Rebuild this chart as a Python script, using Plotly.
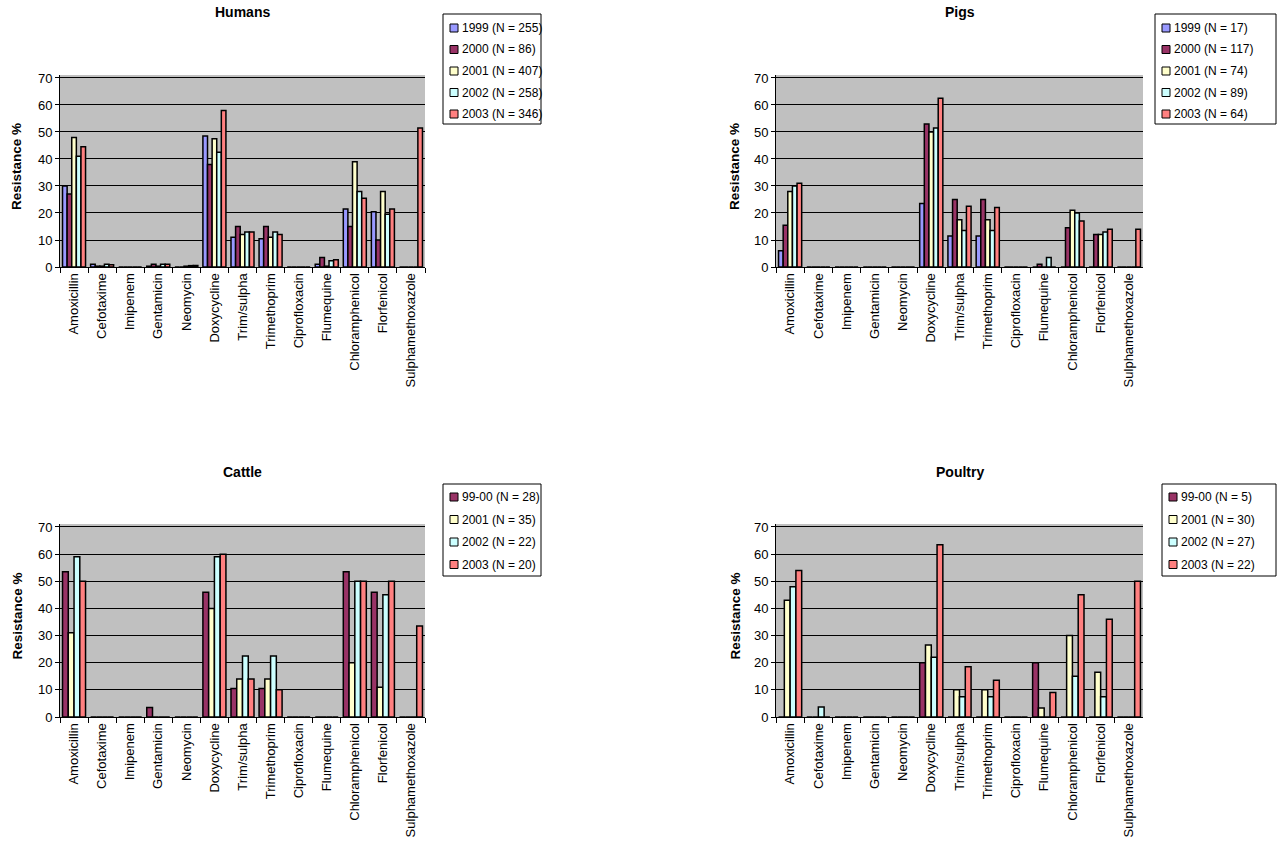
import plotly.graph_objects as go

W, H = 1283, 861
FONT = "Arial, Liberation Sans, sans-serif"

antibiotics = ["Amoxicillin", "Cefotaxime", "Imipenem", "Gentamicin", "Neomycin",
               "Doxycycline", "Trim/sulpha", "Trimethoprim", "Ciprofloxacin",
               "Flumequine", "Chloramphenicol", "Florfenicol", "Sulphamethoxazole"]

# Humans, resistance % per year
humans_labels = ["1999 (N = 255)", "2000 (N = 86)", "2001 (N = 407)", "2002 (N = 258)", "2003 (N = 346)"]
humans_1999 = [30, 1, 0, 0.3, 0, 48.5, 11, 10.5, 0, 1, 21.5, 20.5, 0]
humans_2000 = [27, 0.3, 0, 1, 0, 38, 15, 15, 0, 3.5, 15, 10, 0]
humans_2001 = [48, 0.3, 0, 0.3, 0.3, 47.5, 12, 11, 0, 0.3, 39, 28, 0]
humans_2002 = [41, 1, 0, 1, 0.5, 42.5, 13, 13, 0, 2.3, 28, 19.5, 0]
humans_2003 = [44.5, 0.8, 0, 1, 0.6, 58, 13, 12, 0, 2.7, 25.5, 21.5, 51.5]

# Pigs
pigs_labels = ["1999 (N = 17)", "2000 (N = 117)", "2001 (N = 74)", "2002 (N = 89)", "2003 (N = 64)"]
pigs_1999 = [6, 0, 0, 0, 0, 23.5, 11.5, 11.5, 0, 0, 0, 0, 0]
pigs_2000 = [15.5, 0, 0, 0, 0, 53, 25, 25, 0, 1, 14.5, 12, 0]
pigs_2001 = [28, 0, 0, 0, 0, 50, 17.5, 17.5, 0, 0, 21, 12, 0]
pigs_2002 = [30, 0, 0, 0, 0, 51.5, 13.5, 13.5, 0, 3.5, 20, 13, 0]
pigs_2003 = [31, 0, 0, 0, 0, 62.5, 22.5, 22, 0, 0, 17, 14, 14]

# Cattle
cattle_labels = ["99-00 (N = 28)", "2001 (N = 35)", "2002 (N = 22)", "2003 (N = 20)"]
cattle_9900 = [53.5, 0, 0, 3.5, 0, 46, 10.5, 10.5, 0, 0, 53.5, 46, 0]
cattle_2001 = [31, 0, 0, 0, 0, 40, 14, 14, 0, 0, 20, 11, 0]
cattle_2002 = [59, 0, 0, 0, 0, 59, 22.5, 22.5, 0, 0, 50, 45, 0]
cattle_2003 = [50, 0, 0, 0, 0, 60, 14, 10, 0, 0, 50, 50, 33.5]

# Poultry
poultry_labels = ["99-00 (N = 5)", "2001 (N = 30)", "2002 (N = 27)", "2003 (N = 22)"]
poultry_9900 = [0, 0, 0, 0, 0, 20, 0, 0, 0, 20, 0, 0, 0]
poultry_2001 = [43, 0, 0, 0, 0, 26.5, 10, 10, 0, 3.3, 30, 16.5, 0]
poultry_2002 = [48, 3.7, 0, 0, 0, 22, 7.5, 7.5, 0, 0, 15, 7.5, 0]
poultry_2003 = [54, 0, 0, 0, 0, 63.5, 18.5, 13.5, 0, 9, 45, 36, 50]

C1999, C2000, C2001, C2002, C2003 = "#9999FF", "#993366", "#FFFFCC", "#CCFFFF", "#FF8080"

# pixel placement of each panel: plot box, title, legend box
panels = [
    dict(title="Humans", labels=humans_labels,
         series=[humans_1999, humans_2000, humans_2001, humans_2002, humans_2003],
         colors=[C1999, C2000, C2001, C2002, C2003],
         px=(60, 425), py=(75, 267), title_y=12, ytitle_x=17,
         legend_box=(443, 14, 541, 124), legend_row0=28, legend_step=21.5),
    dict(title="Pigs", labels=pigs_labels,
         series=[pigs_1999, pigs_2000, pigs_2001, pigs_2002, pigs_2003],
         colors=[C1999, C2000, C2001, C2002, C2003],
         px=(776, 1143), py=(75, 267), title_y=12, ytitle_x=735,
         legend_box=(1155, 14, 1276, 124), legend_row0=28, legend_step=21.5),
    dict(title="Cattle", labels=cattle_labels,
         series=[cattle_9900, cattle_2001, cattle_2002, cattle_2003],
         colors=[C2000, C2001, C2002, C2003],
         px=(60, 425), py=(524, 717), title_y=472, ytitle_x=17,
         legend_box=(443, 484, 541, 576), legend_row0=497, legend_step=22.5),
    dict(title="Poultry", labels=poultry_labels,
         series=[poultry_9900, poultry_2001, poultry_2002, poultry_2003],
         colors=[C2000, C2001, C2002, C2003],
         px=(776, 1143), py=(524, 717), title_y=472, ytitle_x=735,
         legend_box=(1162, 484, 1276, 576), legend_row0=497, legend_step=22.5),
]

Y_TOP = 71.1  # back wall rises a little above the 70 gridline


def fx(px):
    return px / W


def fy(py):
    return 1 - py / H


fig = go.Figure()
layout = {}
annotations = []
shapes = []

for i, p in enumerate(panels, start=1):
    sfx = "" if i == 1 else str(i)
    xa, ya = f"x{sfx}", f"y{sfx}"
    for name, vals, col in zip(p["labels"], p["series"], p["colors"]):
        fig.add_trace(go.Bar(
            x=antibiotics, y=vals, name=name, xaxis=xa, yaxis=ya,
            marker=dict(color=col, line=dict(color="black", width=1.5)),
            showlegend=False,
        ))
    x0, x1 = p["px"]
    y0, y1 = p["py"]
    layout[f"xaxis{sfx}"] = dict(
        domain=[fx(x0), fx(x1)], anchor=ya, type="category", automargin=False,
        tickangle=-90, ticks="outside", tickson="boundaries", ticklen=5,
        tickcolor="black", showline=True, linecolor="black", linewidth=1,
        tickfont=dict(family=FONT, size=13, color="black"),
        showgrid=False,
    )
    layout[f"yaxis{sfx}"] = dict(
        domain=[fy(y1), fy(y0)], anchor=xa, range=[0, Y_TOP], automargin=False,
        tickvals=[0, 10, 20, 30, 40, 50, 60, 70], ticks="outside", ticklen=4,
        tickcolor="black", showline=True, linecolor="black", linewidth=1,
        showgrid=True, gridcolor="black", gridwidth=1, zeroline=False,
        tickfont=dict(family=FONT, size=13, color="black"),
    )
    # panel title
    annotations.append(dict(
        text=f"<b>{p['title']}</b>", x=fx((x0 + x1) / 2), y=fy(p["title_y"]),
        xref="paper", yref="paper", xanchor="center", yanchor="middle",
        showarrow=False, font=dict(family=FONT, size=14, color="black"),
    ))
    # y-axis title
    annotations.append(dict(
        text="<b>Resistance %</b>", x=fx(p["ytitle_x"]), y=fy((y0 + y1) / 2 - 4),
        xref="paper", yref="paper", xanchor="center", yanchor="middle",
        textangle=-90, showarrow=False,
        font=dict(family=FONT, size=13.5, color="black"),
    ))
    # legend box with swatches
    lx0, ly0, lx1, ly1 = p["legend_box"]
    shapes.append(dict(type="rect", xref="paper", yref="paper",
                       x0=fx(lx0), x1=fx(lx1), y0=fy(ly1), y1=fy(ly0),
                       line=dict(color="black", width=1), fillcolor="white"))
    for k, (name, col) in enumerate(zip(p["labels"], p["colors"])):
        cy = p["legend_row0"] + k * p["legend_step"]
        shapes.append(dict(type="rect", xref="paper", yref="paper",
                           x0=fx(lx0 + 7), x1=fx(lx0 + 15), y0=fy(cy + 4), y1=fy(cy - 4),
                           line=dict(color="black", width=1), fillcolor=col))
        annotations.append(dict(
            text=name, x=fx(lx0 + 17), y=fy(cy), xref="paper", yref="paper",
            xanchor="left", yanchor="middle", showarrow=False,
            font=dict(family=FONT, size=12, color="black"),
        ))

fig.update_layout(
    **layout,
    annotations=annotations,
    shapes=shapes,
    width=W, height=H,
    margin=dict(l=0, r=0, t=0, b=0),
    paper_bgcolor="white",
    plot_bgcolor="#C0C0C0",
    barmode="group", bargap=0.18, bargroupgap=0,
    showlegend=False,
)

fig.write_html("out.html")
